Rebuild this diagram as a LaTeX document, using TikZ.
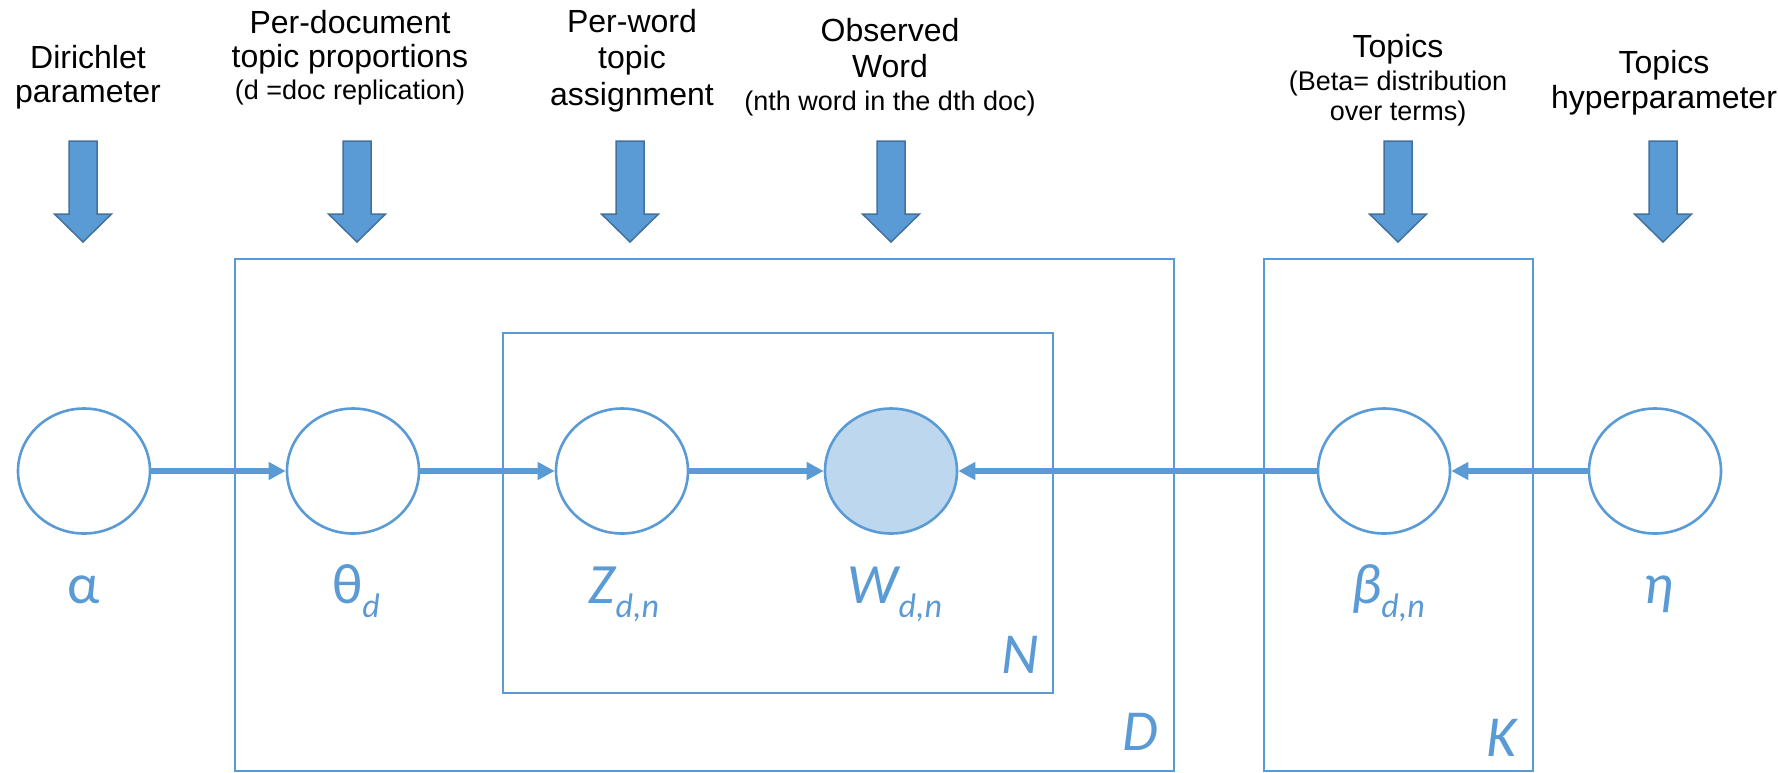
\documentclass[tikz,border=0pt]{standalone}
\usepackage{fontspec}
\setmainfont{Liberation Sans}
\newfontfamily\calib{Carlito}
\usetikzlibrary{shapes.geometric,arrows.meta}
\definecolor{plateblue}{HTML}{5B9BD5}
\definecolor{obsfill}{HTML}{BDD7EE}
\definecolor{arrowedge}{HTML}{41719C}
% italic subscript used in the variable names
\newcommand\plsub[1]{\raisebox{-14pt}{\fontsize{34}{34}\selectfont\itshape #1}}

\begin{document}
\begin{tikzpicture}[x=1pt,y=-1pt,
  var/.style={ellipse, draw=plateblue, line width=2.6pt, fill=white,
    minimum width=132pt, minimum height=125pt, inner sep=0pt},
  obs/.style={var, fill=obsfill},
  plate/.style={draw=plateblue, line width=2.4pt},
  edge/.style={draw=plateblue, line width=6pt,
    -{Triangle[length=17pt,width=17pt]}},
  desc/.style={anchor=base, inner sep=0pt, font=\fontsize{32}{37}\selectfont},
  descsmall/.style={anchor=base, inner sep=0pt, font=\fontsize{27}{30}\selectfont},
  sym/.style={anchor=base, inner sep=0pt, text=plateblue,
    font=\calib\fontsize{57}{60}\selectfont},
  platelabel/.style={anchor=base east, inner sep=0pt, text=plateblue,
    font=\calib\itshape\fontsize{58}{60}\selectfont},
  blockarrow/.style={fill=plateblue, draw=arrowedge, line width=1.5pt, line join=miter},
  bigdown/.pic={\filldraw[blockarrow] (-14,0) -- (14,0) -- (14,73) -- (28.5,73)
    -- (0,101) -- (-28.5,73) -- (-14,73) -- cycle;}
]
\useasboundingbox (0,0) rectangle (1778,772);

% plates
\draw[plate] (235,259) rectangle (1174,771);
\draw[plate] (503,333) rectangle (1053,693);
\draw[plate] (1264,259) rectangle (1533,771);
\node[platelabel] (plN) at (1039,673) {N};
\node[platelabel] (plD) at (1158,750) {D};
\node[platelabel] (plK) at (1517,756) {K};

% variables
\node[var] (alpha) at (84,471) {};
\node[var] (theta) at (353,471) {};
\node[var] (z)     at (622,471) {};
\node[obs] (w)     at (891,471) {};
\node[var] (beta)  at (1384,471) {};
\node[var] (eta)   at (1655,471) {};

% dependencies
\draw[edge] (alpha) -- (theta);
\draw[edge] (theta) -- (z);
\draw[edge] (z) -- (w);
\draw[edge] (beta) -- (w);
\draw[edge] (eta) -- (beta);

% variable names
\node[sym] (lalpha) at (84,603) {α};
\node[sym] (ltheta) at (356,603) {θ\plsub{d}};
\node[sym] (lz)     at (624,603) {\itshape Z\plsub{d,n}};
\node[sym] (lw)     at (895,603) {\itshape W\plsub{d,n}};
\node[sym] (lbeta)  at (1388,603) {\itshape β\plsub{d,n}};
\node[sym] (leta)   at (1658,603) {\itshape η};

% block arrows from the descriptions
\pic at (83,141) {bigdown};
\pic at (357,141) {bigdown};
\pic at (630,141) {bigdown};
\pic at (891,141) {bigdown};
\pic at (1398,141) {bigdown};
\pic at (1663,141) {bigdown};

% descriptions
\node[desc] (dirA) at (88,68) {Dirichlet};
\node[desc] (dirB) at (88,102) {parameter};

\node[desc] (docA) at (350,33) {Per-document};
\node[desc] (docB) at (350,67) {topic proportions};
\node[descsmall] (docC) at (350,99) {(d =doc replication)};

\node[desc] (wrdA) at (632,32) {Per-word};
\node[desc] (wrdB) at (632,68) {topic};
\node[desc] (wrdC) at (632,105) {assignment};

\node[desc] (obsA) at (890,41) {Observed};
\node[desc] (obsB) at (890,77) {Word};
\node[descsmall] (obsC) at (890,110) {(nth word in the dth doc)};

\node[desc] (topA) at (1398,57) {Topics};
\node[descsmall] (topB) at (1398,90) {(Beta= distribution};
\node[descsmall] (topC) at (1398,120) {over terms)};

\node[desc] (hypA) at (1664,73) {Topics};
\node[desc] (hypB) at (1664,108) {hyperparameter};
\end{tikzpicture}
\end{document}
